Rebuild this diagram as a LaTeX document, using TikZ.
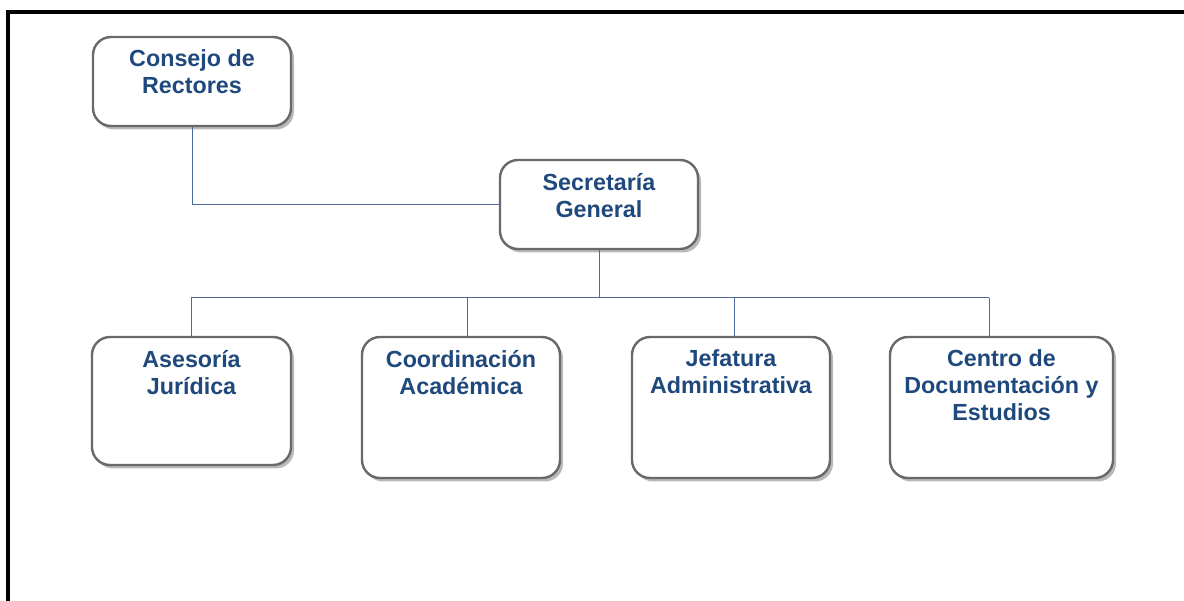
\documentclass[tikz,border=0pt]{standalone}
\usepackage{fontspec}
\setmainfont{Liberation Sans}
\usetikzlibrary{shadows}
\definecolor{txtblue}{RGB}{31,73,125}
\definecolor{linkblue}{RGB}{74,106,158}
\definecolor{boxgray}{RGB}{105,105,105}
\tikzset{
  orgbox/.style={draw=boxgray, line width=2.4pt, rounded corners=18pt, fill=white,
    inner sep=0pt, general shadow={fill=gray!55, shadow xshift=3pt, shadow yshift=-3.5pt}},
  orgtxt/.style={text=txtblue, font=\fontsize{23.3}{27}\selectfont\bfseries, align=center, inner sep=0pt, anchor=north},
  link/.style={draw=linkblue, line width=1pt},
  frame/.style={line width=3.5pt, black}
}
\begin{document}
\begin{tikzpicture}[x=1pt,y=-1pt]
\useasboundingbox (0,0) rectangle (1184,601);
\fill[white] (0,0) rectangle (1184,601);
% frame
\draw[frame] (8,601) -- (8,12) -- (1184,12);
% boxes
\node[orgbox, minimum width=198pt, minimum height=89pt] (cr) at (192,81.5) {};
\node[orgbox, minimum width=198pt, minimum height=89pt] (sg) at (599,204.5) {};
\node[orgbox, minimum width=199pt, minimum height=128pt] (aj) at (191.5,401) {};
\node[orgbox, minimum width=198pt, minimum height=141pt] (ca) at (461,407.5) {};
\node[orgbox, minimum width=198pt, minimum height=141pt] (ja) at (731,407.5) {};
\node[orgbox, minimum width=223pt, minimum height=141pt] (cd) at (1001.5,407.5) {};
% texts
\node[orgtxt] (crt) at ([yshift=-14pt]cr.north) {Consejo de\\Rectores};
\node[orgtxt] (sgt) at ([yshift=-14pt]sg.north) {Secretaría\\General};
\node[orgtxt] (ajt) at ([yshift=-14pt]aj.north) {Asesoría\\Jurídica};
\node[orgtxt] (cat) at ([yshift=-14pt]ca.north) {Coordinación\\Académica};
\node[orgtxt] (jat) at ([yshift=-14pt]ja.north) {Jefatura\\Administrativa};
\node[orgtxt] (cdt) at ([yshift=-14pt]cd.north) {Centro de\\Documentación y\\Estudios};
% connectors
\coordinate (busl) at (191,298);
\coordinate (busr) at (989,298);
\draw[link] (cr.south) |- (sg.west);
\draw[link] (sg.south) -- (sg.south |- busl);
\draw[link] (busl) -- (busr);
\draw[link] (busl) -- (busl |- aj.north);
\draw[link] (467,298) -- (467,337) coordinate (cac);
\draw[link] (734,298) -- (734,337) coordinate (jac);
\draw[link] (busr) -- (busr |- cd.north);
\end{tikzpicture}
\end{document}
